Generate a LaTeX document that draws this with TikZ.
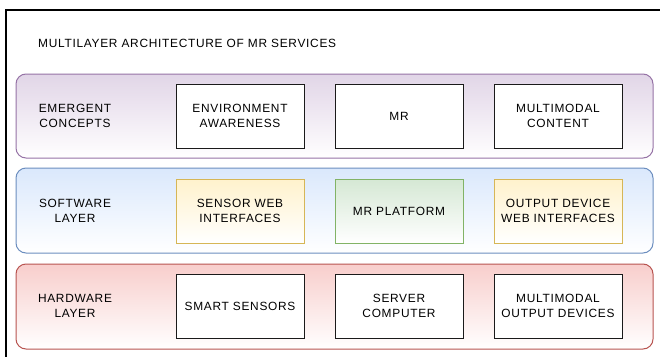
\documentclass[tikz,border=0pt]{standalone}
\usepackage{fontspec}
\setmainfont{Liberation Sans}[LetterSpace=6]
\definecolor{purpleline}{HTML}{9673A6}
\definecolor{purplefill}{HTML}{E1D5E7}
\definecolor{blueline}{HTML}{6C8EBF}
\definecolor{bluefill}{HTML}{DAE8FC}
\definecolor{redline}{HTML}{B85450}
\definecolor{redfill}{HTML}{F8CECC}
\definecolor{yellowline}{HTML}{D6B656}
\definecolor{yellowfill}{HTML}{FFF2CC}
\definecolor{greenline}{HTML}{82B366}
\definecolor{greenfill}{HTML}{D5E8D4}
\definecolor{boxline}{HTML}{1A1A1A}
\begin{document}
\begin{tikzpicture}[x=1pt,y=-1pt,
  every node/.style={font=\fontsize{11.9}{14.5}\selectfont, text=black},
  layerband/.style={rounded corners=10pt, line width=1pt, minimum width=637pt, inner sep=0pt},
  purpleband/.style={layerband, draw=purpleline, top color=purplefill, bottom color=white},
  blueband/.style={layerband, draw=blueline, top color=bluefill, bottom color=white},
  redband/.style={layerband, draw=redline, top color=redfill, bottom color=white},
  itembox/.style={draw=boxline, line width=1pt, minimum width=128pt, minimum height=64pt, inner sep=0pt, align=center},
  plainbox/.style={itembox, fill=white},
  yellowbox/.style={itembox, draw=yellowline, top color=yellowfill, bottom color=white},
  greenbox/.style={itembox, draw=greenline, top color=greenfill, bottom color=white},
  layerlabel/.style={align=center, inner sep=0pt}
]
\useasboundingbox (0,0) rectangle (660,356);
\fill[white] (0,0) rectangle (660,356);
% outer frame: only its left and top edges fall on the page
\coordinate (framebl) at (6,360);
\coordinate (frametl) at (6,10);
\coordinate (frametr) at (664,10);
\draw[line width=2pt] (framebl) -- (frametl) -- (frametr);

\node[anchor=west, inner sep=0pt] (title) at (38,43) {MULTILAYER ARCHITECTURE OF MR SERVICES};

% layer bands
\node[purpleband, minimum height=84pt] (emergent) at (334.5,116) {};
\node[blueband, minimum height=85pt] (software) at (334.5,210.5) {};
\node[redband, minimum height=85pt] (hardware) at (334.5,306.5) {};

% layer names
\node[layerlabel] (emergentlbl) at (75,116) {EMERGENT\\CONCEPTS};
\node[layerlabel] (softwarelbl) at (75,211) {SOFTWARE\\LAYER};
\node[layerlabel] (hardwarelbl) at (75,306) {HARDWARE\\LAYER};

% emergent concepts
\node[plainbox] (env) at (240,116) {ENVIRONMENT\\AWARENESS};
\node[plainbox] (mr) at (399,116) {MR};
\node[plainbox] (content) at (558,116) {MULTIMODAL\\CONTENT};

% software layer
\node[yellowbox] (sensorweb) at (240,211) {SENSOR WEB\\INTERFACES};
\node[greenbox] (platform) at (399,211) {MR PLATFORM};
\node[yellowbox] (outputweb) at (558,211) {OUTPUT DEVICE\\WEB INTERFACES};

% hardware layer
\node[plainbox] (sensors) at (240,306) {SMART SENSORS};
\node[plainbox] (server) at (399,306) {SERVER\\COMPUTER};
\node[plainbox] (devices) at (558,306) {MULTIMODAL\\OUTPUT DEVICES};
\end{tikzpicture}
\end{document}
